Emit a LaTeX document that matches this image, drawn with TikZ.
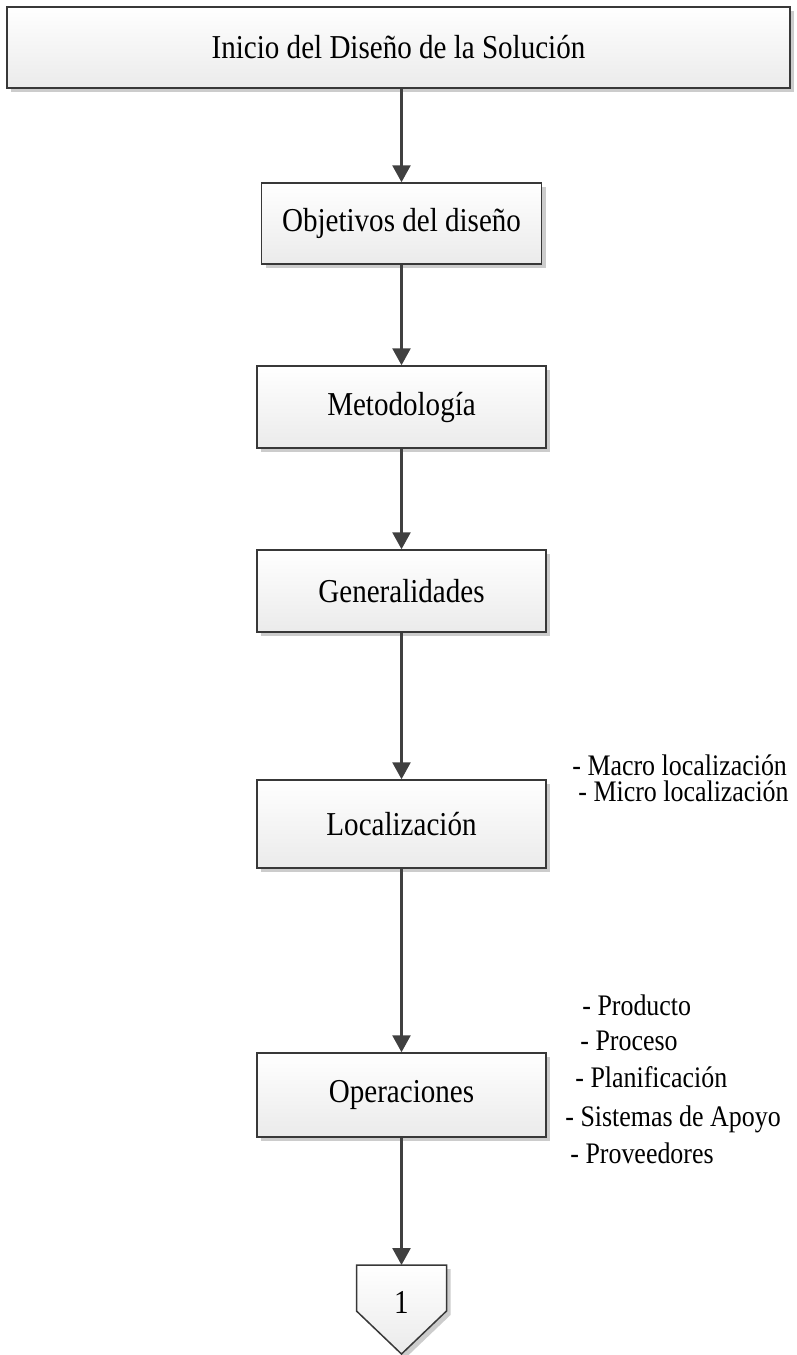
\documentclass[tikz,border=0pt]{standalone}
\usepackage{fontspec}
\setmainfont{Liberation Serif}[FakeStretch=0.87]
\usetikzlibrary{arrows.meta,shadows}

\begin{document}
\begin{tikzpicture}[x=0.5pt,y=-0.5pt,>={Triangle[length=8.5pt,width=9pt]},
        main node/.style={rectangle,draw=black!78,line width=0.75pt,top color=white,bottom color=black!8,
          drop shadow={shadow xshift=2pt,shadow yshift=-2pt,opacity=0.2,fill=black},
          minimum width=144.5pt,minimum height=41pt,inner sep=0pt,font=\fontsize{16.7}{19}\selectfont},
        page node/.style={draw=black!78,line width=0.75pt,top color=white,bottom color=black!8,
          drop shadow={shadow xshift=2pt,shadow yshift=-2pt,opacity=0.2,fill=black}},
        item node/.style={anchor=base west,inner sep=0pt,font=\fontsize{14.9}{17}\selectfont},
        flow/.style={->,draw=black!75,line width=1.35pt}]
        \useasboundingbox (0,0) rectangle (797,1355);
        % pasos
        \node[main node,minimum width=391.5pt,minimum height=40.5pt] (inicio) at (398.5,47.5) {Inicio del Diseño de la Solución};
        \node[main node,minimum width=140pt,minimum height=40.5pt] (objetivos) at (401.5,223.5) {Objetivos del diseño};
        \node[main node] (metodologia) at (401.5,407) {Metodología};
        \node[main node] (generalidades) at (401.5,591) {Generalidades};
        \node[main node,minimum height=44pt] (localizacion) at (401.5,824) {Localización};
        \node[main node,minimum height=42pt] (operaciones) at (401.5,1095) {Operaciones};
        % conector de pagina
        \coordinate (salto) at (401.5,1265);
        \path[page node] (356.5,1265) -- (446.5,1265) -- (446.5,1311) -- (401.5,1354) -- (356.5,1311) -- cycle;
        \node[font=\fontsize{16.7}{19}\selectfont] (uno) at (401.5,1302) {1};
        % detalles
        \node[item node] (macro) at (572,775) {- Macro localización};
        \node[item node] (micro) at (578,801) {- Micro localización};
        \node[item node] (producto) at (582,1015) {- Producto};
        \node[item node] (proceso) at (580,1050) {- Proceso};
        \node[item node] (planificacion) at (575,1087) {- Planificación};
        \node[item node] (apoyo) at (565,1126) {- Sistemas de Apoyo};
        \node[item node] (proveedores) at (570,1163) {- Proveedores};
        % flechas
        \path
        (inicio.south -| objetivos.north) edge[flow] (objetivos)
        (objetivos) edge[flow] (metodologia)
        (metodologia) edge[flow] (generalidades)
        (generalidades) edge[flow] (localizacion)
        (localizacion) edge[flow] (operaciones)
        (operaciones) edge[flow] (salto)
        ;
\end{tikzpicture}
\end{document}
